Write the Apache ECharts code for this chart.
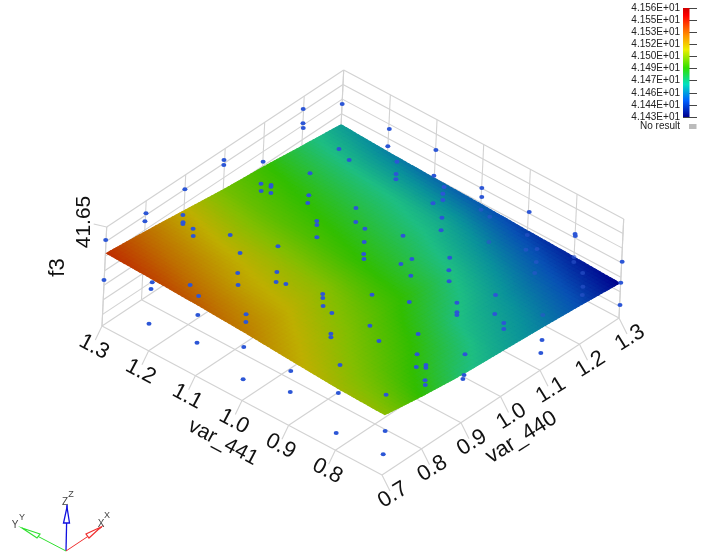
<!DOCTYPE html>
<html><head><meta charset="utf-8">
<style>html,body{margin:0;padding:0;background:#fff}#c{width:701px;height:557px}</style>
<script src="https://cdn.jsdelivr.net/npm/echarts@6/dist/echarts.min.js"></script>
</head><body><div id="c"></div>
<script>
// ---------- data ----------
const var440Ticks = [0.7,0.8,0.9,1.0,1.1,1.2,1.3];
const var441Ticks = [0.7,0.8,0.9,1.0,1.1,1.2,1.3];
const var441Labelled = [0.8,0.9,1.0,1.1,1.2,1.3];
const f3Rungs = [41.35,41.40,41.45,41.50,41.55,41.60,41.65];
const f3Floor = 41.31;
const f3Top = 41.65;
const legendLabels = ['4.156E+01','4.155E+01','4.153E+01','4.152E+01','4.150E+01','4.149E+01','4.147E+01','4.146E+01','4.144E+01','4.143E+01'];
// surface f3, rows: var441 0.7 -> 1.3, columns: var440 0.7 -> 1.3
const surfaceF3 = [
 [41.515,41.493,41.476,41.466,41.456,41.444,41.430],
 [41.520,41.506,41.493,41.475,41.464,41.450,41.436],
 [41.530,41.518,41.505,41.492,41.475,41.458,41.441],
 [41.541,41.528,41.515,41.496,41.482,41.468,41.447],
 [41.549,41.532,41.519,41.501,41.487,41.473,41.451],
 [41.555,41.539,41.522,41.505,41.492,41.476,41.456],
 [41.560,41.545,41.528,41.510,41.497,41.480,41.464]
];
const colorStops = [
 [41.430,[0,0,140]],[41.445,[8,80,180]],[41.460,[10,145,155]],[41.474,[30,190,130]],
 [41.495,[50,190,0]],[41.513,[130,190,0]],[41.527,[190,175,0]],[41.545,[190,110,0]],[41.560,[190,45,0]]
];
const dotF3 = 41.48;
const dotsVar440 = [1.334,1.279,1.249,1.239,1.235,1.223,1.082,1.071,1.122,1.151,1.073,1.082,1.078,1.058,1.065,1.103,1.085,0.976,0.881,0.863,0.919,0.904,0.900,0.901,0.886,0.779,0.930,0.960,0.903,1.057,1.049,1.023,1.129,1.099,0.858,0.904,0.882,0.889,0.833,0.779,0.765,0.909,0.901,0.692,0.742,0.726,1.334,1.296,1.342,1.273,1.246,1.235,1.285,1.273,1.257,1.244,1.226,1.205,1.178,1.313,1.294,1.095,1.066,1.040,1.030,1.123,1.084,1.061,1.047,1.129,1.102,1.079,0.963,1.102,1.316,1.317,1.321,1.315,1.269,0.884,0.879,0.895,0.873,0.834,0.827,0.780,0.763,0.724,0.650,0.664,0.708,0.639,0.710,0.665,0.778,0.717,0.630,0.990,1.042,1.022,1.016,1.061,1.052,1.039,1.221,0.932,0.888,0.942,0.860,0.875,0.869,0.842,0.832,0.767,0.897,0.887,1.059,1.030,0.689,0.638];
const dotsVar441 = [1.327,1.364,1.339,1.330,1.250,1.218,1.367,1.358,1.317,1.241,1.280,1.266,1.263,1.267,1.252,1.203,1.190,1.361,1.364,1.351,1.317,1.304,1.301,1.280,1.267,1.364,1.225,1.148,1.181,1.147,1.140,1.118,1.124,1.099,1.148,1.103,1.086,1.071,1.126,1.183,1.153,1.009,1.002,1.294,1.233,1.222,1.226,1.197,1.133,1.158,1.137,1.128,1.089,1.057,1.046,1.035,1.041,1.004,0.983,1.010,0.994,1.076,1.053,1.032,1.023,1.018,0.966,0.970,0.937,0.923,0.902,0.882,0.949,0.802,0.911,0.813,0.817,0.711,0.675,0.987,0.964,0.896,0.858,0.928,0.922,1.064,1.050,1.120,1.162,1.071,1.008,0.951,0.909,0.872,0.861,0.813,0.744,0.892,0.834,0.817,0.812,0.769,0.742,0.731,0.636,0.824,0.789,0.732,0.767,0.759,0.754,0.733,0.724,0.753,0.696,0.690,0.666,0.644,0.689,0.650];
// dots seen through the surface
const hiddenVar440 = [1.266,1.261,1.207,1.265,1.232,1.246,1.218,1.193,1.271,1.260,1.247,1.218,1.200,1.113];
const hiddenVar441 = [0.972,0.949,0.905,0.872,0.847,0.835,0.813,0.795,0.777,0.768,0.738,0.713,0.699,0.710];

// ---------- projection of the 3D box onto the hidden plotting plane ----------
const view = {ox:382,oy:475, ax:237,ay:-157, bx:-280,by:-149, hx:4.7,hy:-99};
function project(v440,v441,f){
  const a=(v440-0.7)/0.6, b=(v441-0.7)/0.6, h=(f-f3Floor)/(f3Top-f3Floor);
  return [view.ox+view.ax*a+view.bx*b+view.hx*h, view.oy+view.ay*a+view.by*b+view.hy*h];
}
function colorOf(v){
  if(v<=colorStops[0][0]) return 'rgb('+colorStops[0][1].join(',')+')';
  for(let i=1;i<colorStops.length;i++){
    if(v<=colorStops[i][0]){
      const p=colorStops[i-1],q=colorStops[i],t=(v-p[0])/(q[0]-p[0]);
      return 'rgb('+p[1].map((c,k)=>Math.round(c+(q[1][k]-c)*t)).join(',')+')';
    }
  }
  return 'rgb('+colorStops[colorStops.length-1][1].join(',')+')';
}
// box lines
const segs=[];
function seg(p,q){segs.push([p[0],p[1],q[0],q[1]]);}
var440Ticks.forEach(t=>{
  seg(project(t,0.7,f3Floor),project(t,1.3,f3Floor));
  seg(project(t,1.3,f3Floor),project(t,1.3,f3Top));
});
var441Ticks.forEach(t=>{
  seg(project(0.7,t,f3Floor),project(1.3,t,f3Floor));
  seg(project(1.3,t,f3Floor),project(1.3,t,f3Top));
});
f3Rungs.forEach(z=>{
  seg(project(0.7,1.3,z),project(1.3,1.3,z));
  seg(project(1.3,1.3,z),project(1.3,0.7,z));
});
seg(project(0.7,1.3,f3Floor),project(0.7,1.3,f3Top));
seg(project(1.3,0.7,f3Floor),project(1.3,0.7,f3Top));
// tick stubs
var441Labelled.forEach(t=>{const p=project(0.7,t,f3Floor);segs.push([p[0],p[1],p[0]-6.7,p[1]+14]);});
var440Ticks.forEach(t=>{const p=project(t,0.7,f3Floor);segs.push([p[0],p[1],p[0]+8,p[1]+16]);});
{const p=project(0.7,1.3,f3Top);segs.push([p[0],p[1],p[0]-13,p[1]-3]);}

// surface cells (smooth shading between grid nodes); each cell overlaps the later-drawn ones to hide seams
const SUB=12, cells=[];
function bil(i,j,s,t){const g=surfaceF3;
  return g[j][i]*(1-s)*(1-t)+g[j][i+1]*s*(1-t)+g[j+1][i]*(1-s)*t+g[j+1][i+1]*s*t;}
for(let j=0;j<6;j++)for(let i=0;i<6;i++)for(let m=0;m<SUB;m++)for(let n=0;n<SUB;n++){
  const pt=(u,w)=>{const s=u/SUB,t=w/SUB;
    return project(var440Ticks[i]+0.1*s,var441Ticks[j]+0.1*t,bil(i,j,s,t));};
  const n2=(i===5&&n===SUB-1)?n+1:n+1.7, m2=(j===5&&m===SUB-1)?m+1:m+1.7;
  const A=pt(n,m),B=pt(n2,m),C=pt(n2,m2),D=pt(n,m2);
  cells.push([A[0],A[1],B[0],B[1],C[0],C[1],D[0],D[1],bil(i,j,(n+.5)/SUB,(m+.5)/SUB)]);
}
// text labels
const FONT='"Liberation Sans",Arial,sans-serif';
const R441=-28*Math.PI/180, R440=32*Math.PI/180;
const texts=[];
function addText(s,base,dx,dy,rot,size){const p=project(...base);texts.push({v:[p[0]+dx,p[1]+dy],s,rot,size});}
var441Labelled.forEach(t=>addText(t.toFixed(1),[0.7,t,f3Floor],-8,21,R441,22));
var440Ticks.forEach(t=>addText(t.toFixed(1),[t,0.7,f3Floor],11,20,R440,22));
addText('var_441',[0.7,1.0,f3Floor],-19,42,R441,21);
addText('var_440',[1.0,0.7,f3Floor],21,41,R440,22);
addText('41.65',[0.7,1.3,f3Top],-22,-5,Math.PI/2,21);
addText('f3',[0.7,1.3,41.48],-46,-9,Math.PI/2,22);

const chart=echarts.init(document.getElementById('c'),null,{renderer:'canvas'});
chart.setOption({
  animation:false,
  backgroundColor:'#fff',
  grid:[
    {left:0,right:0,top:0,bottom:0,outerBoundsMode:'none'},
    {left:683,top:8,width:14,height:109,outerBoundsMode:'none'}
  ],
  xAxis:[
    {type:'value',min:0,max:701,show:false,gridIndex:0},
    {type:'value',min:0,max:1,show:false,gridIndex:1}
  ],
  yAxis:[
    {type:'value',min:0,max:557,inverse:true,show:false,gridIndex:0},
    {type:'category',data:legendLabels,boundaryGap:false,inverse:true,gridIndex:1,
     axisLine:{show:false},axisTick:{show:false},
     splitLine:{show:true,interval:0,lineStyle:{color:'#444',width:1}},
     axisLabel:{interval:0,margin:3,fontSize:10,fontFamily:FONT,color:'#222',hideOverlap:false}}
  ],
  series:[
    {type:'custom',name:'box',z:1,silent:true,xAxisIndex:0,yAxisIndex:0,clip:false,data:segs,
     encode:{x:[0,2],y:[1,3]},
     renderItem:(p,api)=>{const a=api.coord([api.value(0),api.value(1)]),b=api.coord([api.value(2),api.value(3)]);
       return {type:'line',shape:{x1:a[0],y1:a[1],x2:b[0],y2:b[1]},style:{stroke:'#d2d2d2',lineWidth:1.1}};}},
    {type:'custom',name:'surface',z:2,silent:true,progressive:0,xAxisIndex:0,yAxisIndex:0,clip:false,data:cells,
     encode:{x:[0,2,4,6],y:[1,3,5,7]},
     renderItem:(p,api)=>{const pts=[0,2,4,6].map(k=>api.coord([api.value(k),api.value(k+1)]));
       return {type:'polygon',shape:{points:pts},style:{fill:colorOf(api.value(8))}};}},
    {type:'scatter',name:'below',z:3,silent:true,xAxisIndex:0,yAxisIndex:0,symbol:'circle',symbolSize:[5,4],
     itemStyle:{color:'rgba(45,85,205,0.6)',opacity:1},
     data:hiddenVar440.map((v,i)=>project(v,hiddenVar441[i],dotF3))},
    {type:'scatter',name:'above',z:4,silent:true,xAxisIndex:0,yAxisIndex:0,symbol:'circle',symbolSize:[5,4],
     itemStyle:{color:'#2c56d6',opacity:1},
     data:dotsVar440.map((v,i)=>project(v,dotsVar441[i],dotF3))},
    {type:'custom',name:'labels',z:5,silent:true,xAxisIndex:0,yAxisIndex:0,clip:false,
     data:texts.map(t=>t.v),encode:{x:0,y:1},
     renderItem:(p,api)=>{const t=texts[p.dataIndex],c=api.coord([api.value(0),api.value(1)]);
       return {type:'text',x:c[0],y:c[1],rotation:t.rot,
         style:{text:t.s,x:0,y:0,fill:'#111',font:t.size+'px '+FONT,align:'center',verticalAlign:'middle'}};}},
    {type:'line',xAxisIndex:1,yAxisIndex:1,data:[],silent:true}
  ],
  graphic:[
    {type:'rect',z:10,shape:{x:683,y:8,width:6.5,height:109},
     style:{fill:new echarts.graphic.LinearGradient(0,0,0,1,[
       {offset:0,color:'#d00000'},{offset:.07,color:'#ff0000'},{offset:.25,color:'#ff9000'},
       {offset:.38,color:'#eeee00'},{offset:.55,color:'#30e000'},{offset:.70,color:'#00e0c0'},
       {offset:.85,color:'#0060ff'},{offset:1,color:'#000090'}])}},
    {type:'text',z:10,x:680,y:126,style:{text:'No result',fill:'#222',font:'10px '+FONT,align:'right',verticalAlign:'middle'}},
    {type:'rect',z:10,shape:{x:689,y:124,width:7.5,height:5},style:{fill:'#bbbbbb'}},
    // orientation triad
    {type:'line',z:10,shape:{x1:66,y1:551,x2:67,y2:505},style:{stroke:'#1010e0',lineWidth:1.3}},
    {type:'polygon',z:10,shape:{points:[[67,507],[69.5,523],[63.5,523]]},style:{fill:'#fff',stroke:'#1010e0',lineWidth:1.3}},
    {type:'line',z:10,shape:{x1:66,y1:551,x2:102,y2:527},style:{stroke:'#f03030',lineWidth:1}},
    {type:'polygon',z:10,shape:{points:[[101,527],[86,534],[89,538]]},style:{fill:'#fff',stroke:'#f03030',lineWidth:1.2}},
    {type:'line',z:10,shape:{x1:66,y1:551,x2:22,y2:528},style:{stroke:'#30e030',lineWidth:1}},
    {type:'polygon',z:10,shape:{points:[[22,528],[40,534],[37,538]]},style:{fill:'#fff',stroke:'#30e030',lineWidth:1.2}},
    {type:'text',z:10,x:15,y:525,style:{text:'Y',fill:'#444',font:'10px '+FONT,align:'center',verticalAlign:'middle'}},
    {type:'text',z:10,x:22,y:518,style:{text:'Y',fill:'#444',font:'9px '+FONT,align:'center',verticalAlign:'middle'}},
    {type:'text',z:10,x:65,y:502,style:{text:'Z',fill:'#444',font:'10px '+FONT,align:'center',verticalAlign:'middle'}},
    {type:'text',z:10,x:71,y:495,style:{text:'Z',fill:'#444',font:'9px '+FONT,align:'center',verticalAlign:'middle'}},
    {type:'text',z:10,x:101,y:524,style:{text:'X',fill:'#444',font:'10px '+FONT,align:'center',verticalAlign:'middle'}},
    {type:'text',z:10,x:107,y:516,style:{text:'X',fill:'#444',font:'9px '+FONT,align:'center',verticalAlign:'middle'}}
  ]
});
</script></body></html>
